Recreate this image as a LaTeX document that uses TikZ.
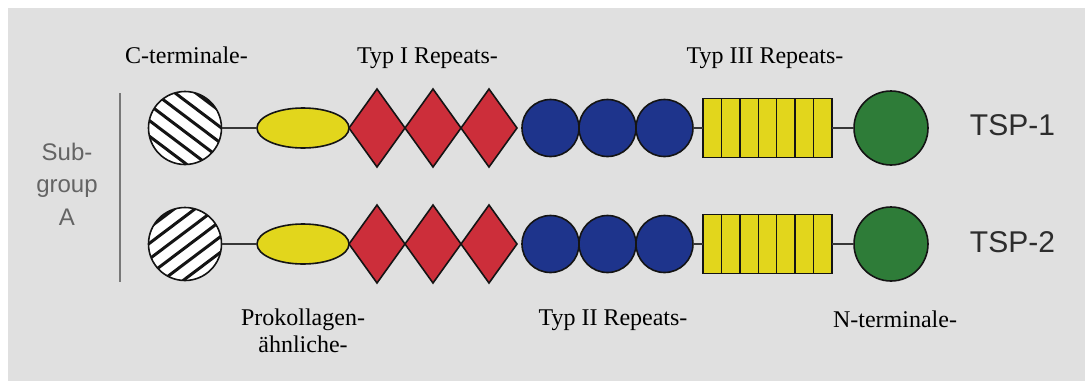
\documentclass[tikz,border=0pt]{standalone}
\usepackage{fontspec}
\setmainfont{Liberation Serif}
\setsansfont{Liberation Sans}
\usetikzlibrary{shapes.geometric}

\definecolor{panel}{RGB}{224,224,224}
\definecolor{domyellow}{RGB}{226,214,28}
\definecolor{domred}{RGB}{204,46,58}
\definecolor{domblue}{RGB}{30,52,140}
\definecolor{domgreen}{RGB}{46,124,56}
\definecolor{outline}{RGB}{20,20,20}
\definecolor{tsptext}{RGB}{45,45,45}
\definecolor{grouptext}{RGB}{100,100,100}
\definecolor{groupline}{RGB}{120,120,120}

\tikzset{
  dombase/.style={draw=outline, line width=1.6pt, inner sep=0pt, outer sep=0pt},
  hatchcirc/.style={dombase, circle, minimum size=73pt, fill=white},
  ovalnode/.style={dombase, ellipse, minimum width=92pt, minimum height=40pt, fill=domyellow},
  diamondnode/.style={dombase, diamond, minimum width=56pt, minimum height=78pt, fill=domred},
  bluecirc/.style={dombase, circle, minimum size=57pt, fill=domblue},
  rectnode/.style={dombase, rectangle, minimum width=129pt, minimum height=59pt, fill=domyellow},
  greencirc/.style={dombase, circle, minimum size=74pt, fill=domgreen},
  conn/.style={draw=outline!85, line width=1.6pt},
  lbl/.style={anchor=base, font=\rmfamily\fontsize{24}{27}\selectfont, text=black, align=center, inner sep=0pt},
  tsp/.style={anchor=base, font=\sffamily\fontsize{30}{34}\selectfont, text=tsptext, inner sep=0pt},
}

\begin{document}
\begin{tikzpicture}[x=1pt, y=-1pt]
  \useasboundingbox (0,0) rectangle (1085,381);
  \fill[white] (0,0) rectangle (1085,381);
  \fill[panel] (8,8) rectangle (1085,381);

  % subgroup bracket (base anchor sits on the last line)
  \node[anchor=base, align=center, inner sep=0pt, text=grouptext,
        font=\sffamily\fontsize{24}{32.5}\selectfont] (sub) at (67,225) {Sub-\\group\\A};
  \coordinate (bartop) at (120,93);
  \coordinate (barbot) at (120,282);
  \draw[groupline, line width=1.8pt] (bartop) -- (barbot);

  % two domain chains; \dir flips the slope of the stripes in the hatched circle
  % stripe: t*(cos a, dir*sin a) + o*(-dir*sin a, cos a), a = 37 deg
  \foreach \r/\y/\dir in {1/128/1, 2/244/-1} {
    \node[hatchcirc, path picture={
        \foreach \k in {-3,...,3} {
          \pgfmathsetmacro{\o}{\k*12.5+3}
          \draw[outline, line width=3pt, shift={(path picture bounding box.center)}]
            ({-50*0.7986-\o*\dir*0.6018}, {-50*\dir*0.6018+\o*0.7986}) --
            ({50*0.7986-\o*\dir*0.6018}, {50*\dir*0.6018+\o*0.7986});
        }
      }] (hc\r) at (185,\y) {};
    \node[ovalnode] (ov\r) at (303,\y) {};
    \node[diamondnode] (dma\r) at (377,\y) {};
    \node[diamondnode] (dmb\r) at (433,\y) {};
    \node[diamondnode] (dmc\r) at (489,\y) {};
    \node[bluecirc] (bca\r) at (550.5,\y) {};
    \node[bluecirc] (bcb\r) at (607.5,\y) {};
    \node[bluecirc] (bcc\r) at (664.5,\y) {};
    \node[rectnode, path picture={
        \foreach \k in {1,...,6}
          \draw[outline, line width=1.4pt]
            ([xshift=\k*18.43pt]path picture bounding box.north west) --
            ([xshift=\k*18.43pt]path picture bounding box.south west);
      }] (rc\r) at (767.5,\y) {};
    \node[greencirc] (gc\r) at (891,\y) {};

    \draw[conn] (hc\r) -- (ov\r);
    \draw[conn] (bcc\r) -- (rc\r);
    \draw[conn] (rc\r) -- (gc\r);
  }

  % chain names
  \node[tsp] (tsp1) at (1012.5,135) {TSP-1};
  \node[tsp] (tsp2) at (1012.5,252) {TSP-2};

  % domain labels
  \node[lbl] (lc) at (186.5,63) {C-terminale-};
  \node[lbl] (lt1) at (427.5,63) {Typ I Repeats-};
  \node[lbl] (lt3) at (765,63) {Typ III Repeats-};
  \node[lbl] (lpk) at (303,352) {Prokollagen-\\ähnliche-};
  \node[lbl] (lt2) at (613,325) {Typ II Repeats-};
  \node[lbl] (ln) at (895,327) {N-terminale-};
\end{tikzpicture}
\end{document}
